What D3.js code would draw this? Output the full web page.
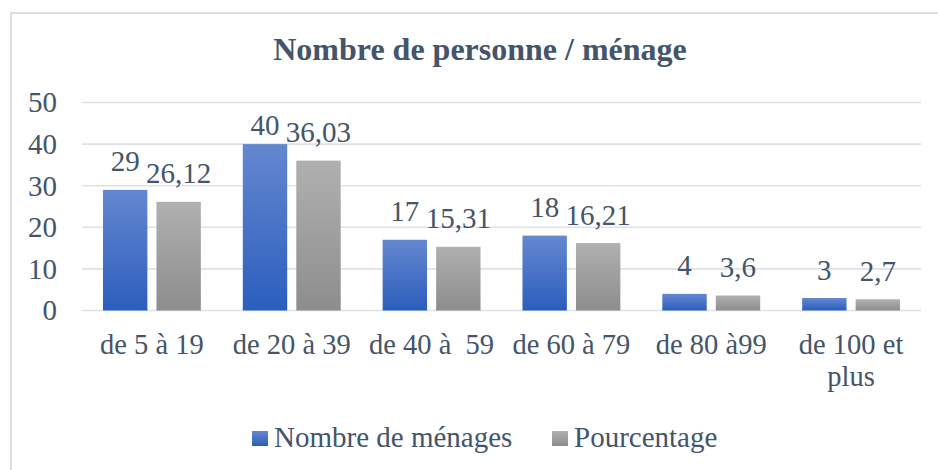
<!DOCTYPE html>
<html>
<head>
<meta charset="utf-8">
<script src="https://cdn.jsdelivr.net/npm/d3@7"></script>
<style>
  html, body { margin: 0; padding: 0; background: #fff; }
  svg text { font-family: "Liberation Serif", "DejaVu Serif", "Times New Roman", Times, serif; }
</style>
</head>
<body>
<svg id="chart" width="938" height="470"></svg>
<script>
// Household size groups and their values
const categories = ["de 5 à 19", "de 20 à 39", "de 40 à  59", "de 60 à 79", "de 80 à99", "de 100 et plus"];
const categoryLines = [["de 5 à 19"], ["de 20 à 39"], ["de 40 à  59"], ["de 60 à 79"], ["de 80 à99"], ["de 100 et", "plus"]];
const seriesNames = ["Nombre de ménages", "Pourcentage"];
const menages = [29, 40, 17, 18, 4, 3];
const pourcentage = [26.12, 36.03, 15.31, 16.21, 3.6, 2.7];
const labelsMenages = ["29", "40", "17", "18", "4", "3"];
const labelsPourcentage = ["26,12", "36,03", "15,31", "16,21", "3,6", "2,7"];
const yTicks = [0, 10, 20, 30, 40, 50];

const textColor = "#44546a";
const svg = d3.select("#chart");

// Outer chart frame
svg.append("rect")
  .attr("x", 11).attr("y", 13).attr("width", 940).attr("height", 470)
  .attr("fill", "#fff").attr("stroke", "#dadfe8").attr("stroke-width", 2);

// Gradients for the two series
const defs = svg.append("defs");
const grads = [
  { id: "gBlue", top: "#6587d0", bottom: "#2b5ebd" },
  { id: "gGray", top: "#b0b0b0", bottom: "#8d8d8d" }
];
grads.forEach(g => {
  const lg = defs.append("linearGradient").attr("id", g.id)
    .attr("x1", 0).attr("y1", 0).attr("x2", 0).attr("y2", 1);
  lg.append("stop").attr("offset", "0%").attr("stop-color", g.top);
  lg.append("stop").attr("offset", "100%").attr("stop-color", g.bottom);
});

const x0 = d3.scaleBand().domain(categories).range([82, 921]).paddingInner(0.3).paddingOuter(0.15);
const x1 = d3.scaleBand().domain(seriesNames).range([0, x0.bandwidth()]).paddingInner(0.17);
const y = d3.scaleLinear().domain([0, 50]).range([310.5, 102.5]);

// Title
svg.append("text")
  .attr("x", 480).attr("y", 60)
  .attr("text-anchor", "middle")
  .attr("font-size", 32).attr("font-weight", "bold")
  .attr("fill", textColor)
  .text("Nombre de personne / ménage");

// Horizontal gridlines
svg.append("g").selectAll("line").data(yTicks).join("line")
  .attr("x1", 82).attr("x2", 921)
  .attr("y1", d => y(d)).attr("y2", d => y(d))
  .attr("stroke", "#dde1e8").attr("stroke-width", 1.6);

// Y axis labels
svg.append("g").selectAll("text").data(yTicks).join("text")
  .attr("x", 57).attr("y", d => y(d))
  .attr("dy", "0.34em")
  .attr("text-anchor", "end")
  .attr("font-size", 29)
  .attr("fill", textColor)
  .text(d => d);

// Bars
const series = [
  { name: seriesNames[0], values: menages, labels: labelsMenages, fill: "url(#gBlue)" },
  { name: seriesNames[1], values: pourcentage, labels: labelsPourcentage, fill: "url(#gGray)" }
];

series.forEach(s => {
  const g = svg.append("g");
  g.selectAll("rect").data(s.values).join("rect")
    .attr("x", (d, i) => x0(categories[i]) + x1(s.name))
    .attr("y", d => y(d))
    .attr("width", x1.bandwidth())
    .attr("height", d => y(0) - y(d))
    .attr("fill", s.fill);

  g.selectAll("text").data(s.values).join("text")
    .attr("x", (d, i) => x0(categories[i]) + x1(s.name) + x1.bandwidth() / 2)
    .attr("y", d => Math.max(y(d) - 18.5, y(50) + 32.5))
    .attr("text-anchor", "middle")
    .attr("font-size", 29)
    .attr("fill", textColor)
    .text((d, i) => s.labels[i]);
});

// Category labels
const catG = svg.append("g");
categories.forEach((c, i) => {
  const t = catG.append("text")
    .attr("x", x0(c) + x0.bandwidth() / 2)
    .attr("y", 354)
    .attr("text-anchor", "middle")
    .attr("font-size", 28.5)
    .attr("fill", textColor)
    .style("white-space", "pre");
  categoryLines[i].forEach((line, j) => {
    t.append("tspan")
      .attr("x", x0(c) + x0.bandwidth() / 2)
      .attr("dy", j === 0 ? 0 : 32)
      .text(line);
  });
});

// Legend
const legendItems = [
  { name: seriesNames[0], fill: "url(#gBlue)", x: 252 },
  { name: seriesNames[1], fill: "url(#gGray)", x: 552 }
];
const leg = svg.append("g");
legendItems.forEach(it => {
  leg.append("rect")
    .attr("x", it.x).attr("y", 431).attr("width", 16).attr("height", 15)
    .attr("fill", it.fill);
  leg.append("text")
    .attr("x", it.x + 22).attr("y", 447)
    .attr("font-size", 29)
    .attr("fill", textColor)
    .text(it.name);
});
</script>
</body>
</html>
